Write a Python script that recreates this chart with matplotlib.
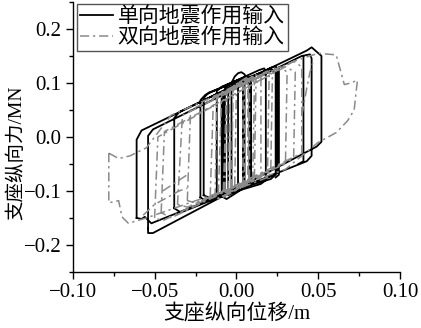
import numpy as np
import matplotlib
matplotlib.use('Agg')
import matplotlib.pyplot as plt
from matplotlib.ticker import MultipleLocator

# Hysteresis loops (displacement in m, force in MN)
# loops are separated by None
black_disp = [
    -0.061, -0.061, -0.058, 0.043, 0.046, 0.049, 0.052, 0.052, 0.049, -0.051, -0.054, -0.054, None,
    -0.054, -0.054, -0.051, 0.040, 0.045, 0.046, 0.046, 0.043, -0.052, -0.056, -0.058, -0.061, None,
    -0.038, -0.038, -0.035, 0.021, 0.024, 0.025, 0.025, 0.022, -0.034, -0.038, None,
    -0.022, -0.022, -0.019, 0.014, 0.017, 0.018, 0.018, 0.015, -0.019, -0.022, None,
    -0.020, -0.020, -0.017, 0.021, 0.024, 0.024, 0.021, -0.017, -0.020, None,
    -0.012, -0.012, -0.009, 0.006, 0.009, 0.009, 0.006, -0.009, -0.012, None,
    -0.007, -0.007, -0.004, 0.002, 0.004, 0.004, 0.001, -0.004, -0.007, None,
    -0.005, -0.005, -0.002, 0.000, 0.001, 0.001, -0.002, -0.005, None,
    -0.003, -0.003, 0.002, 0.004, 0.004, 0.002, -0.003, None,
    -0.003, -0.001, 0.001, 0.003, 0.005, 0.006, 0.004, None,
    -0.009, -0.009, 0.007, 0.008, 0.008, -0.006, -0.009, None,
    -0.008, -0.008, 0.003, 0.005, 0.005, -0.005, -0.008, None,
    0.026, 0.026, 0.024, None,
    0.041, 0.041, 0.038, None,
]
black_force = [
    -0.150, -0.005, 0.012, 0.160, 0.166, 0.158, 0.150, -0.009, -0.018, -0.178, -0.178, -0.170, None,
    -0.170, 0.002, 0.014, 0.150, 0.153, 0.145, -0.035, -0.045, -0.160, -0.148, -0.152, -0.150, None,
    -0.132, 0.035, 0.046, 0.128, 0.131, 0.125, -0.065, -0.072, -0.140, -0.132, None,
    -0.112, 0.068, 0.078, 0.124, 0.127, 0.120, -0.080, -0.087, -0.118, -0.112, None,
    -0.108, 0.072, 0.082, 0.126, 0.120, -0.070, -0.078, -0.112, -0.108, None,
    -0.105, 0.085, 0.093, 0.112, 0.108, -0.085, -0.093, -0.108, -0.105, None,
    -0.100, 0.090, 0.097, 0.106, 0.100, -0.088, -0.095, -0.102, -0.100, None,
    -0.098, 0.090, 0.096, 0.098, 0.092, -0.090, -0.096, -0.098, None,
    -0.100, 0.088, 0.100, 0.105, -0.085, -0.093, -0.100, None,
    0.100, 0.112, 0.118, 0.120, 0.116, 0.108, 0.104, None,
    -0.110, 0.080, 0.110, 0.104, -0.088, -0.115, -0.110, None,
    -0.106, 0.082, 0.100, 0.096, -0.092, -0.108, -0.106, None,
    0.128, -0.070, -0.075, None,
    0.150, -0.045, -0.050, None,
]

gray_disp = [
    -0.078, -0.078, -0.072, -0.070, -0.066, -0.055, 0.030, 0.050, 0.055, 0.061, 0.068, 0.072, 0.074,
    0.070, 0.066, 0.063, 0.061, 0.050, 0.035, -0.040, -0.055, -0.065, -0.072, -0.078, None,
    -0.050, -0.048, 0.035, 0.040, 0.040, -0.045, -0.050, None,
    -0.046, -0.044, 0.030, 0.036, 0.035, -0.040, -0.046, None,
    -0.036, -0.033, 0.027, 0.031, 0.030, -0.030, -0.036, None,
    -0.030, -0.028, 0.019, 0.022, 0.021, -0.025, -0.030, None,
    -0.016, -0.014, 0.012, 0.015, 0.015, -0.012, -0.016, None,
    -0.011, -0.009, 0.010, 0.012, 0.011, -0.008, -0.011, None,
    -0.008, -0.006, 0.005, 0.007, 0.007, -0.005, -0.008, None,
    -0.005, -0.004, 0.002, 0.004, 0.004, -0.003, -0.005, None,
    -0.003, -0.002, 0.006, 0.008, 0.008, -0.001, -0.003, None,
    -0.013, -0.012, 0.003, 0.005, 0.005, -0.010, -0.013, None,
    -0.007, -0.006, 0.018, 0.020, 0.019, -0.004, -0.007, None,
    -0.001, 0.000, 0.010, 0.011, 0.010, 0.001, -0.001, None,
    -0.057, -0.050, -0.035, -0.030, None,
    0.040, 0.043, 0.045, 0.047, None,
    -0.045, -0.040, -0.030, None,
]
gray_force = [
    -0.030, -0.122, -0.118, -0.148, -0.160, -0.150, -0.060, -0.010, -0.002, 0.008, 0.030, 0.050, 0.105,
    0.100, 0.097, 0.130, 0.152, 0.155, 0.140, 0.040, -0.020, -0.035, -0.040, -0.030, None,
    -0.150, 0.000, 0.140, 0.130, -0.030, -0.155, -0.150, None,
    -0.140, 0.010, 0.130, 0.120, -0.040, -0.150, -0.140, None,
    -0.125, 0.040, 0.130, 0.120, -0.050, -0.130, -0.125, None,
    -0.118, 0.050, 0.122, 0.112, -0.065, -0.122, -0.118, None,
    -0.110, 0.075, 0.115, 0.110, -0.075, -0.115, -0.110, None,
    -0.105, 0.080, 0.112, 0.105, -0.080, -0.110, -0.105, None,
    -0.100, 0.085, 0.108, 0.100, -0.085, -0.105, -0.100, None,
    -0.098, 0.088, 0.103, 0.098, -0.088, -0.100, -0.098, None,
    -0.095, 0.090, 0.110, 0.104, -0.082, -0.098, -0.095, None,
    -0.112, 0.075, 0.100, 0.094, -0.090, -0.115, -0.112, None,
    -0.100, 0.082, 0.120, 0.114, -0.075, -0.102, -0.100, None,
    -0.090, 0.092, 0.108, 0.100, -0.080, -0.092, -0.090, None,
    -0.145, -0.125, -0.100, -0.095, None,
    0.040, 0.090, 0.120, 0.140, None,
    -0.100, -0.090, -0.070, None,
]

labels = ['单向地震作用输入', '双向地震作用输入']

serif = ['Liberation Serif', 'Noto Sans CJK SC']
plt.rcParams['font.family'] = serif
plt.rcParams['axes.unicode_minus'] = True

fig = plt.figure(figsize=(4.21, 3.28), dpi=100)
ax = fig.add_axes([0.173, 0.171, 0.777, 0.823])

bx = np.array(black_disp, dtype=float)
by = np.array(black_force, dtype=float)
gx = np.array(gray_disp, dtype=float)
gy = np.array(gray_force, dtype=float)

ax.plot(bx, by, color='black', lw=1.3, solid_joinstyle='round', label=labels[0])
ax.plot(gx, gy, color='#8a8a8a', lw=1.1, linestyle=(0, (6, 2.5, 1.5, 2.5)), label=labels[1])

ax.set_xlim(-0.1, 0.1)
ax.set_ylim(-0.25, 0.25)
ax.xaxis.set_minor_locator(MultipleLocator(0.025))
ax.yaxis.set_minor_locator(MultipleLocator(0.05))
ax.set_xticks([-0.1, -0.05, 0.0, 0.05, 0.1])
ax.set_xticklabels(['\u22120.10', '\u22120.05', '0.00', '0.05', '0.10'])
ax.set_yticks([-0.2, -0.1, 0.0, 0.1, 0.2])
ax.set_yticklabels(['\u22120.2', '\u22120.1', '0.0', '0.1', '0.2'])
ax.tick_params(which='major', direction='out', length=5, width=1, labelsize=15, pad=3)
ax.tick_params(which='minor', direction='out', length=3, width=1)

for s in ['top', 'right']:
    ax.spines[s].set_visible(False)
for s in ['left', 'bottom']:
    ax.spines[s].set_linewidth(1)

ax.set_xlabel('支座纵向位移/m', fontsize=15, labelpad=2)
fig.text(16 / 421, 1 - 153 / 328, '支座纵向力/MN', fontsize=14, rotation=90,
         ha='center', va='center')

leg = fig.legend(loc='upper left', bbox_to_anchor=(77 / 421, 1 - 4 / 328), fontsize=15,
                 frameon=True, fancybox=False, edgecolor='#555555', framealpha=1,
                 borderpad=0.15, labelspacing=0.05, handlelength=1.6, handletextpad=0.2,
                 borderaxespad=0)
leg.get_frame().set_linewidth(1)

fig.savefig('out.png', dpi=100)
